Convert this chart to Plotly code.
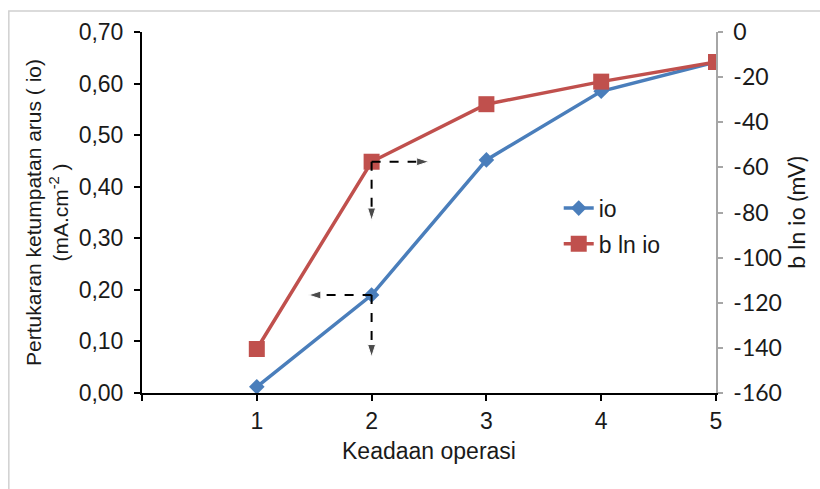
import plotly.graph_objects as go

# ---- data ----
keadaan = [1, 2, 3, 4, 5]
io_vals = [0.012, 0.19, 0.452, 0.585, 0.642]
bln_io = [-140.5, -57.5, -32.0, -22.0, -13.3]

x_ticks = [0, 1, 2, 3, 4, 5]
x_ticktext = ["", "1", "2", "3", "4", "5"]
y_ticks = [0.0, 0.1, 0.2, 0.3, 0.4, 0.5, 0.6, 0.7]
y_ticktext = ["0,00", "0,10", "0,20", "0,30", "0,40", "0,50", "0,60", "0,70"]
y2_ticks = [-160, -140, -120, -100, -80, -60, -40, -20, 0]
y2_ticktext = ["-160", "-140", "-120", "-100", "-80", "-60", "-40", "-20", "0"]

# guide arrows (start -> end)
arrow_io_h_x = [2, 1.45]
arrow_io_h_y = [0.19, 0.19]
arrow_io_v_x = [2, 2]
arrow_io_v_y = [0.19, 0.07]
arrow_b_h_x = [2, 2.5]
arrow_b_h_y = [-57.5, -57.5]
arrow_b_v_x = [2, 2]
arrow_b_v_y = [-57.5, -83.5]

BLUE = "#4a7ebb"
RED = "#c0504d"
FONT = "Liberation Sans, Arial, sans-serif"
FONT2 = "Lato, Noto Sans, sans-serif"
FS = 23

fig = go.Figure()

fig.add_trace(go.Scatter(
    x=keadaan, y=io_vals, name="io", mode="lines+markers",
    line=dict(color=BLUE, width=3.5),
    marker=dict(symbol="diamond", size=12, color=BLUE),
    yaxis="y", legend="legend"))

fig.add_trace(go.Scatter(
    x=keadaan, y=bln_io, name="b ln io", mode="lines+markers",
    line=dict(color=RED, width=3.5),
    marker=dict(symbol="square", size=16, color=RED),
    yaxis="y2", legend="legend2"))

def arrow(xs, ys, axis):
    fig.add_trace(go.Scatter(
        x=xs, y=ys, mode="lines+markers", showlegend=False, hoverinfo="skip",
        line=dict(color="black", width=2, dash="dash"),
        marker=dict(symbol=["circle", "arrow"], size=[0, 13], color="black",
                    angleref="previous"),
        yaxis=axis))

arrow(arrow_io_h_x, arrow_io_h_y, "y")
arrow(arrow_io_v_x, arrow_io_v_y, "y")
arrow(arrow_b_h_x, arrow_b_h_y, "y2")
arrow(arrow_b_v_x, arrow_b_v_y, "y2")

fig.update_layout(
    width=820, height=489,
    margin=dict(l=142, r=104, t=32, b=96),
    paper_bgcolor="white", plot_bgcolor="white",
    font=dict(family=FONT, size=FS, color="#1a1a1a"),
    xaxis=dict(
        range=[0, 5], tickvals=x_ticks, ticktext=x_ticktext,
        showgrid=False, zeroline=False,
        showline=True, linecolor="black", linewidth=2,
        ticks="outside", ticklen=6, tickwidth=2, tickcolor="black",
        tickfont=dict(size=FS, family=FONT),
        title=dict(text="Keadaan operasi", font=dict(size=FS, family=FONT), standoff=10),
    ),
    yaxis=dict(
        range=[0, 0.7], tickvals=y_ticks, ticktext=y_ticktext,
        showgrid=False, zeroline=False,
        showline=True, linecolor="black", linewidth=2,
        ticks="outside", ticklen=6, tickwidth=2, tickcolor="black",
        ticklabelstandoff=6,
        tickfont=dict(size=FS, family=FONT),
        title=dict(text="Pertukaran ketumpatan arus ( io)<br>(mA.cm<sup>-2</sup> )",
                   font=dict(size=21, family=FONT), standoff=4),
    ),
    yaxis2=dict(
        range=[-160, 0], tickvals=y2_ticks, ticktext=y2_ticktext,
        overlaying="y", side="right",
        showgrid=False, zeroline=False,
        showline=True, linecolor="#a6a6a6", linewidth=1.5,
        ticks="outside", ticklen=5, tickwidth=1.5, tickcolor="#a6a6a6",
        ticklabelstandoff=6,
        tickfont=dict(size=FS, family=FONT2),
        title=dict(text="b ln io (mV)", font=dict(size=FS, family=FONT2), standoff=8),
    ),
    legend=dict(x=0.726, y=0.512, xanchor="left", yanchor="middle",
                bgcolor="rgba(0,0,0,0)", font=dict(size=FS, family=FONT)),
    legend2=dict(x=0.726, y=0.413, xanchor="left", yanchor="middle",
                 bgcolor="rgba(0,0,0,0)", font=dict(size=FS, family=FONT)),
    shapes=[dict(type="rect", xref="paper", yref="paper",
                 x0=-0.232, x1=1.3, y0=-0.5, y1=1.058,
                 line=dict(color="#d0d0d0", width=1.5), layer="below")],
)

fig.write_html("out.html")
